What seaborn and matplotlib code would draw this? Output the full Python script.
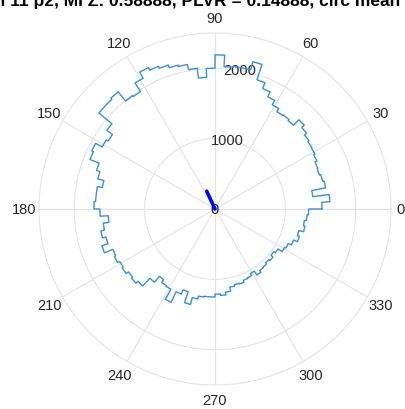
import numpy as np
import pandas as pd
import matplotlib
matplotlib.use("Agg")
import matplotlib.pyplot as plt
import seaborn as sns

# spike counts per phase bin (100 bins of 3.6 deg, starting at 0 deg, counter-clockwise)
counts = [1520, 1635, 1400, 1600, 1580, 1560, 1570, 1600, 1620, 1630,
          1650, 1690, 1740, 1630, 1650, 1640, 1690, 1760, 1840, 1930,
          2160, 2040, 2040, 2030, 2190, 2000, 1875, 2015, 2090, 2110,
          2150, 2180, 2220, 2120, 1975, 1990, 2160, 2140, 2140, 1900,
          1800, 1830, 1935, 1910, 1770, 1720, 1630, 1700, 1700, 1720,
          1635, 1520, 1600, 1650, 1600, 1690, 1560, 1580, 1545, 1560,
          1520, 1540, 1500, 1350, 1240, 1290, 1300, 1465, 1300, 1235,
          1400, 1300, 1260, 1250, 1250, 1210, 1230, 1190, 1130, 1110,
          1120, 1090, 1080, 1045, 1110, 1080, 1070, 1050, 1070, 1032,
          1060, 1130, 1150, 1200, 1260, 1230, 1300, 1280, 1310, 1330]

# mean resultant vector
mean_angle_deg = 115
mean_length = 280

title = "Ch 11 p2, MI Z: 0.58888, PLVR = 0.14888, circ mean = 116"
theta_ticks = list(range(0, 360, 30))
r_ticks = [0, 1000, 2000]
r_max = 2500

# build stairs outline from the counts
edges = np.deg2rad(np.linspace(0, 360, len(counts) + 1))
th, rr = [], []
for i, c in enumerate(counts):
    th += [edges[i], edges[i + 1]]
    rr += [c, c]
th.append(edges[-1])
rr.append(counts[0])
df = pd.DataFrame({"theta": th, "r": rr})

vec = pd.DataFrame({"theta": [np.deg2rad(mean_angle_deg)] * 2, "r": [0, mean_length]})

sns.set_style("white")
plt.rcParams["font.family"] = ["Liberation Sans", "DejaVu Sans"]

fig = plt.figure(figsize=(4.06, 4.10), dpi=100)
# polar area: centre at (215, 210) px, radius 176 px
ax = fig.add_axes([39 / 406, 24 / 410, 352 / 406, 352 / 410], projection="polar")

sns.lineplot(data=df, x="theta", y="r", sort=False, estimator=None,
             color="#3a8fd4", linewidth=1.0, ax=ax)
sns.lineplot(data=vec, x="theta", y="r", sort=False, estimator=None,
             color="#0000ff", linewidth=2.6, ax=ax)

ax.set_ylim(0, r_max)
ax.set_yticks(r_ticks)
ax.set_yticklabels([str(v) for v in r_ticks], fontsize=10.5, color="#262626")
ax.set_rlabel_position(80)
ax.set_xticks(np.deg2rad(theta_ticks))
# the 0 label is narrow and sits closer to the circle, drawn separately below
ax.set_xticklabels(["" if v == 0 else str(v) for v in theta_ticks],
                   fontsize=10.5, color="#262626")
ax.tick_params(axis="x", pad=0.5)
ax.set_xlabel("")
ax.set_ylabel("")
ax.grid(True, color="#e3e3e3", linewidth=0.8)
ax.spines["polar"].set_color("#e3e3e3")
ax.spines["polar"].set_linewidth(0.8)
for lab in ax.get_yticklabels():
    lab.set_horizontalalignment("center")
    lab.set_verticalalignment("center")

ax.text(0, r_max * 1.055, "0", ha="center", va="center",
        fontsize=10.5, color="#262626", clip_on=False)

# title sits partly above the top edge, as in the original export
fig.text(215 / 406, 1 - 6 / 410, title, ha="center", va="baseline",
         fontsize=12.5, fontweight="bold", color="black")

fig.savefig("out.png", dpi=100)
